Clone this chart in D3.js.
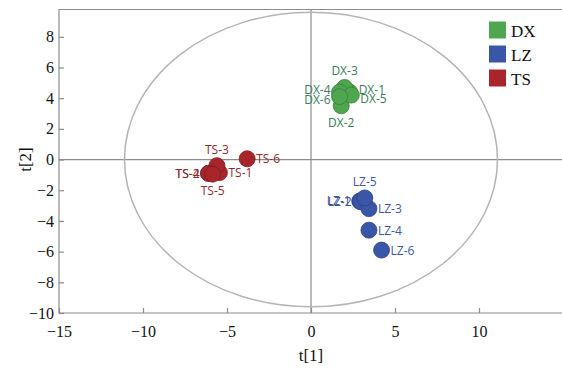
<!DOCTYPE html>
<html>
<head>
<meta charset="utf-8">
<script src="https://cdn.jsdelivr.net/npm/d3@7"></script>
<style>
  body { margin: 0; background: #fff; }
  svg { display: block; }
</style>
</head>
<body>
<div id="chart"></div>
<script>
// groups and sample scores (t[1], t[2])
var groups = ['DX', 'LZ', 'TS'];
var groupColors = ['#4ea64f', '#3a56a8', '#a8262b'];
var labelColors = ['#3b7a5c', '#3f559e', '#8e2a2f'];

var sampleNames = ['DX-1','DX-2','DX-3','DX-4','DX-5','DX-6',
                   'LZ-1','LZ-2','LZ-3','LZ-4','LZ-5','LZ-6',
                   'TS-1','TS-2','TS-3','TS-4','TS-5','TS-6'];
var sampleGroup = ['DX','DX','DX','DX','DX','DX',
                   'LZ','LZ','LZ','LZ','LZ','LZ',
                   'TS','TS','TS','TS','TS','TS'];
var t1 = [2.3, 1.8, 2.0, 1.7, 2.4, 1.7,
          2.9, 2.95, 3.45, 3.45, 3.2, 4.2,
          -5.45, -6.1, -5.6, -6.1, -5.85, -3.8];
var t2 = [4.4, 3.5, 4.7, 4.4, 4.2, 4.1,
          -2.7, -2.75, -3.2, -4.6, -2.5, -5.9,
          -0.85, -0.9, -0.4, -0.9, -0.95, 0.05];
// label placement: r = right, l = left, t = top, b = bottom
var labelPos = ['r','b','t','l','r','l',
                'l','l','r','r','t','r',
                'r','l','t','l','b','r'];
var labelDy = [-3,0,0,-3,3,3, 0,0,0,0,0,0, 0,0,0,0,0,0];

var xTicks = [-15, -10, -5, 0, 5, 10];
var yTicks = [-10, -8, -6, -4, -2, 0, 2, 4, 6, 8];
var ellipseR = [11.1, 9.6];

var width = 562, height = 368;
var margin = {top: 9.5, right: 0, bottom: 55, left: 59};

var svg = d3.select('#chart').append('svg')
    .attr('width', width).attr('height', height);

var xScale = d3.scaleLinear().domain([-15, 14.94])
    .range([margin.left, width - margin.right]);
var yScale = d3.scaleLinear().domain([-10, 9.78])
    .range([height - margin.bottom, margin.top]);

var gray = '#8c8c8c';
var serif = '"Liberation Serif", "Times New Roman", serif';

// frame
svg.append('path')
    .attr('d', 'M' + width + ',' + yScale(9.78) + 'H' + xScale(-15) + 'V' + yScale(-10) + 'H' + width)
    .attr('fill', 'none').attr('stroke', gray).attr('stroke-width', 1.2);

// zero lines
svg.append('line')
    .attr('x1', xScale(0)).attr('x2', xScale(0))
    .attr('y1', yScale(9.78)).attr('y2', yScale(-10))
    .attr('stroke', gray).attr('stroke-width', 1.2);
svg.append('line')
    .attr('x1', xScale(-15)).attr('x2', width)
    .attr('y1', yScale(0)).attr('y2', yScale(0))
    .attr('stroke', gray).attr('stroke-width', 1.2);

// Hotelling ellipse
svg.append('ellipse')
    .attr('cx', xScale(0)).attr('cy', yScale(0))
    .attr('rx', xScale(ellipseR[0]) - xScale(0))
    .attr('ry', yScale(0) - yScale(ellipseR[1]))
    .attr('fill', 'none').attr('stroke', '#b4b4b4').attr('stroke-width', 1.5);

// axes with inward ticks
var xAxis = d3.axisBottom(xScale).tickValues(xTicks).tickSize(-5).tickPadding(13);
var yAxis = d3.axisLeft(yScale).tickValues(yTicks).tickSize(-5).tickPadding(5);

var gx = svg.append('g').attr('transform', 'translate(0,' + yScale(-10) + ')').call(xAxis);
var gy = svg.append('g').attr('transform', 'translate(' + xScale(-15) + ',0)').call(yAxis);
[gx, gy].forEach(function(g) {
    g.select('.domain').remove();
    g.selectAll('line').attr('stroke', gray).attr('stroke-width', 1.2);
    g.selectAll('text').attr('font-family', serif).attr('font-size', 16).attr('fill', '#111');
});

// axis titles
svg.append('text')
    .attr('x', xScale(0)).attr('y', 361)
    .attr('text-anchor', 'middle')
    .attr('font-family', serif).attr('font-size', 17).attr('fill', '#111')
    .text('t[1]');
svg.append('text')
    .attr('transform', 'translate(31,' + yScale(0) + ') rotate(-90)')
    .attr('text-anchor', 'middle')
    .attr('font-family', serif).attr('font-size', 17).attr('fill', '#111')
    .text('t[2]');

var data = sampleNames.map(function(n, i) {
    return {name: n, group: sampleGroup[i], x: t1[i], y: t2[i], pos: labelPos[i], dy: labelDy[i]};
});
var color = d3.scaleOrdinal().domain(groups).range(groupColors);
var lcolor = d3.scaleOrdinal().domain(groups).range(labelColors);

// points
svg.append('g').selectAll('circle')
    .data(data).enter().append('circle')
    .attr('cx', d => xScale(d.x))
    .attr('cy', d => yScale(d.y))
    .attr('r', 8)
    .attr('fill', d => color(d.group))
    .attr('stroke', d => d3.color(color(d.group)).darker(0.8))
    .attr('stroke-width', 0.8);

// labels
svg.append('g').selectAll('text')
    .data(data).enter().append('text')
    .attr('x', function(d) {
        var x = xScale(d.x);
        if (d.pos === 'r') return x + 9;
        if (d.pos === 'l') return x - 9;
        return x;
    })
    .attr('y', function(d) {
        var y = yScale(d.y) + d.dy;
        if (d.pos === 't') return y - 12;
        if (d.pos === 'b') return y + 21;
        return y + 4.5;
    })
    .attr('text-anchor', d => d.pos === 'r' ? 'start' : (d.pos === 'l' ? 'end' : 'middle'))
    .attr('font-family', '"Open Sans", "DejaVu Sans", sans-serif')
    .attr('font-size', 12)
    .attr('fill', d => lcolor(d.group))
    .text(d => d.name);

// legend
var legend = svg.append('g').selectAll('g')
    .data(groups).enter().append('g')
    .attr('transform', (d, i) => 'translate(489,' + (21.5 + i * 24) + ')');
legend.append('rect')
    .attr('width', 17).attr('height', 17)
    .attr('fill', d => color(d));
legend.append('text')
    .attr('x', 22).attr('y', 15)
    .attr('font-family', serif).attr('font-size', 17).attr('fill', '#111')
    .text(d => d);
</script>
</body>
</html>
